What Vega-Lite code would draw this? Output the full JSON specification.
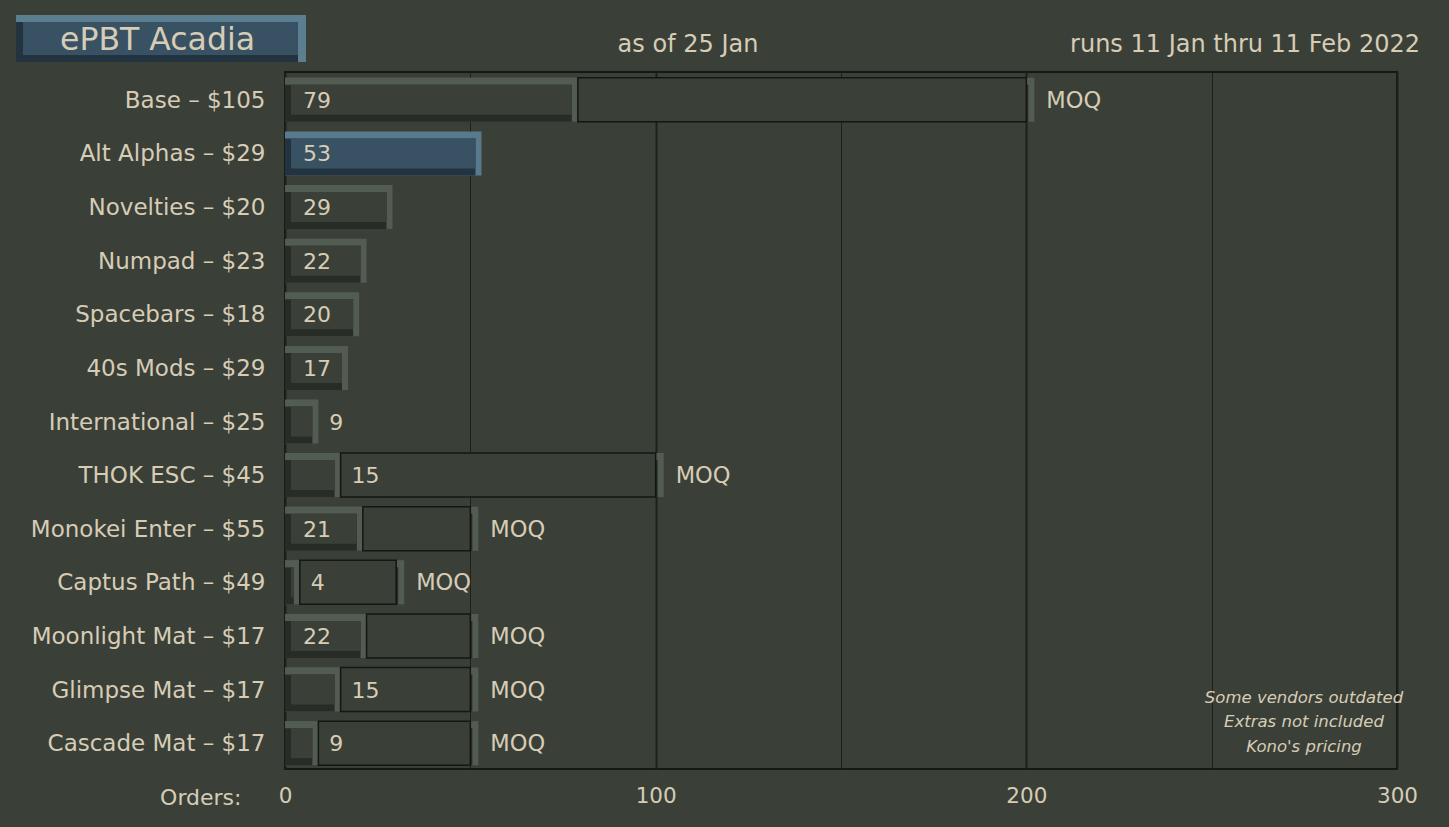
{
  "$schema": "https://vega.github.io/schema/vega-lite/v6.json",
  "width": 1112,
  "height": 697,
  "autosize": {"type": "none"},
  "padding": {"left": 285, "top": 72, "right": 52, "bottom": 58},
  "background": "#3a4038",
  "config": {
    "view": {"stroke": "#151914", "strokeWidth": 2},
    "font": "DejaVu Sans"
  },
  "datasets": {
    "rows": [
      {"item": "Base – $105", "orders": 79, "moq": 200},
      {"item": "Alt Alphas – $29", "orders": 53, "moq": null},
      {"item": "Novelties – $20", "orders": 29, "moq": null},
      {"item": "Numpad – $23", "orders": 22, "moq": null},
      {"item": "Spacebars – $18", "orders": 20, "moq": null},
      {"item": "40s Mods – $29", "orders": 17, "moq": null},
      {"item": "International – $25", "orders": 9, "moq": null},
      {"item": "THOK ESC – $45", "orders": 15, "moq": 100},
      {"item": "Monokei Enter – $55", "orders": 21, "moq": 50},
      {"item": "Captus Path – $49", "orders": 4, "moq": 30},
      {"item": "Moonlight Mat – $17", "orders": 22, "moq": 50},
      {"item": "Glimpse Mat – $17", "orders": 15, "moq": 50},
      {"item": "Cascade Mat – $17", "orders": 9, "moq": 50}
    ],
    "header": [
      {"title": "ePBT Acadia", "asof": "as of 25 Jan", "runs": "runs 11 Jan thru 11 Feb 2022", "note": "Some vendors outdated\nExtras not included\nKono's pricing"}
    ]
  },
  "layer": [
    {
      "data": {"name": "rows"},
      "encoding": {
        "y": {
          "field": "item", "type": "nominal",
          "scale": {"paddingInner": 0, "paddingOuter": 0, "domain": ["Base – $105", "Alt Alphas – $29", "Novelties – $20", "Numpad – $23", "Spacebars – $18", "40s Mods – $29", "International – $25", "THOK ESC – $45", "Monokei Enter – $55", "Captus Path – $49", "Moonlight Mat – $17", "Glimpse Mat – $17", "Cascade Mat – $17"]},
          "axis": {"title": null, "ticks": false, "domain": false, "grid": false, "labelPadding": 20, "labelOffset": 2, "labelFontSize": 23, "labelLimit": 400, "labelColor": "#d7ccb6", "labelFont": "DejaVu Sans"}
        }
      },
      "layer": [
        {
          "transform": [{"filter": "isValid(datum.moq)"}],
          "mark": {"type": "bar", "height": 44, "yOffset": 1, "xOffset": 8, "color": "#535c52"},
          "encoding": {
            "x": {
              "field": "moq", "type": "quantitative",
              "scale": {"domain": [0, 300], "nice": false, "zero": true},
              "axis": {
                "title": "Orders:", "values": [0, 50, 100, 150, 200, 250, 300],
                "labelExpr": "datum.value % 100 === 0 ? datum.label : ''",
                "grid": true, "gridColor": "#1c211b",
                "gridWidth": {"condition": {"test": "datum.value % 100 === 0", "value": 2}, "value": 1},
                "ticks": false, "domain": false, "labelPadding": 16, "labelFontSize": 21.5, "labelFlush": false, "labelColor": "#d7ccb6",
                "titleFontSize": 22, "titleFontWeight": "normal", "titleColor": "#d7ccb6", "titleAlign": "right", "titleAnchor": "start",
                "titleX": -44, "titleY": 35, "titleBaseline": "alphabetic"
              }
            },
            "x2": {"datum": 0}
          }
        },
        {
          "transform": [{"filter": "isValid(datum.moq)"}],
          "mark": {"type": "bar", "height": 37, "yOffset": 4.5, "xOffset": 2, "color": "#272d26"},
          "encoding": {"x": {"field": "moq", "type": "quantitative"}, "x2": {"datum": 0}}
        },
        {
          "mark": {"type": "bar", "height": 44, "yOffset": 1},
          "encoding": {
            "x": {"field": "orders", "type": "quantitative"}, "x2": {"datum": 0},
            "color": {"condition": {"test": "datum.item === 'Alt Alphas – $29'", "value": "#587a8c"}, "value": "#535c52"}
          }
        },
        {
          "mark": {"type": "bar", "height": 37, "yOffset": 4.5, "xOffset": -6},
          "encoding": {
            "x": {"field": "orders", "type": "quantitative"}, "x2": {"datum": 0},
            "color": {"condition": {"test": "datum.item === 'Alt Alphas – $29'", "value": "#233340"}, "value": "#272d26"}
          }
        },
        {
          "mark": {"type": "bar", "height": 30, "yOffset": 1, "xOffset": -6, "x2Offset": 6},
          "encoding": {
            "x": {"field": "orders", "type": "quantitative"}, "x2": {"datum": 0},
            "color": {"condition": {"test": "datum.item === 'Alt Alphas – $29'", "value": "#385263"}, "value": "#3a4038"}
          }
        },
        {
          "transform": [{"filter": "isValid(datum.moq)"}],
          "mark": {"type": "bar", "height": 44, "yOffset": 1, "color": "#3a4038", "stroke": "#131712", "strokeWidth": 1.5},
          "encoding": {"x": {"field": "moq", "type": "quantitative"}, "x2": {"field": "orders"}}
        },
        {
          "transform": [{"filter": "datum.orders >= 16"}],
          "mark": {"type": "text", "align": "left", "baseline": "middle", "dx": 18, "dy": 2, "fontSize": 22, "color": "#d7ccb6"},
          "encoding": {"x": {"datum": 0, "type": "quantitative"}, "text": {"field": "orders"}}
        },
        {
          "transform": [{"filter": "datum.orders < 16"}],
          "mark": {"type": "text", "align": "left", "baseline": "middle", "dx": 11, "dy": 2, "fontSize": 22, "color": "#d7ccb6"},
          "encoding": {"x": {"field": "orders", "type": "quantitative"}, "text": {"field": "orders"}}
        },
        {
          "transform": [{"filter": "isValid(datum.moq)"}],
          "mark": {"type": "text", "align": "left", "baseline": "middle", "dx": 20, "dy": 2, "fontSize": 22.5, "color": "#d7ccb6"},
          "encoding": {"x": {"field": "moq", "type": "quantitative"}, "text": {"value": "MOQ"}}
        }
      ]
    },
    {
      "data": {"name": "header"},
      "layer": [
        {
          "mark": {"type": "rect", "color": "#5b7e91"},
          "encoding": {
            "x": {"datum": -72.57, "type": "quantitative"}, "x2": {"datum": 5.665},
            "y": {"datum": 14.063, "type": "quantitative", "scale": {"domain": [0, 13], "nice": false, "zero": false}, "axis": null}, "y2": {"datum": 13.186}
          }
        },
        {
          "mark": {"type": "rect", "color": "#233440"},
          "encoding": {
            "x": {"datum": -72.57, "type": "quantitative"}, "x2": {"datum": 3.507},
            "y": {"datum": 13.933, "type": "quantitative", "scale": {"domain": [0, 13], "nice": false, "zero": false}, "axis": null}, "y2": {"datum": 13.186}
          }
        },
        {
          "mark": {"type": "rect", "color": "#385263"},
          "encoding": {
            "x": {"datum": -70.68, "type": "quantitative"}, "x2": {"datum": 3.507},
            "y": {"datum": 13.933, "type": "quantitative", "scale": {"domain": [0, 13], "nice": false, "zero": false}, "axis": null}, "y2": {"datum": 13.317}
          }
        },
        {
          "mark": {"type": "text", "align": "center", "baseline": "alphabetic", "fontSize": 31.5, "color": "#d7ccb6"},
          "encoding": {
            "x": {"datum": -34.4, "type": "quantitative"},
            "y": {"datum": 13.41, "type": "quantitative", "scale": {"domain": [0, 13], "nice": false, "zero": false}, "axis": null},
            "text": {"field": "title"}
          }
        },
        {
          "mark": {"type": "text", "align": "center", "baseline": "alphabetic", "fontSize": 24, "color": "#d7ccb6"},
          "encoding": {
            "x": {"datum": 108.72, "type": "quantitative"},
            "y": {"datum": 13.373, "type": "quantitative", "scale": {"domain": [0, 13], "nice": false, "zero": false}, "axis": null},
            "text": {"field": "asof"}
          }
        },
        {
          "mark": {"type": "text", "align": "right", "baseline": "alphabetic", "fontSize": 24, "color": "#d7ccb6"},
          "encoding": {
            "x": {"datum": 306.2, "type": "quantitative"},
            "y": {"datum": 13.373, "type": "quantitative", "scale": {"domain": [0, 13], "nice": false, "zero": false}, "axis": null},
            "text": {"field": "runs"}
          }
        },
        {
          "mark": {"type": "text", "align": "center", "baseline": "alphabetic", "fontSize": 16.5, "fontStyle": "italic", "font": "DejaVu Sans", "lineBreak": "\n", "lineHeight": 24.5, "color": "#d7ccb6"},
          "encoding": {
            "x": {"datum": 274.91, "type": "quantitative"},
            "y": {"datum": 1.231, "type": "quantitative", "scale": {"domain": [0, 13], "nice": false, "zero": false}, "axis": null},
            "text": {"field": "note"}
          }
        }
      ]
    }
  ],
  "resolve": {"scale": {"y": "independent"}}
}
